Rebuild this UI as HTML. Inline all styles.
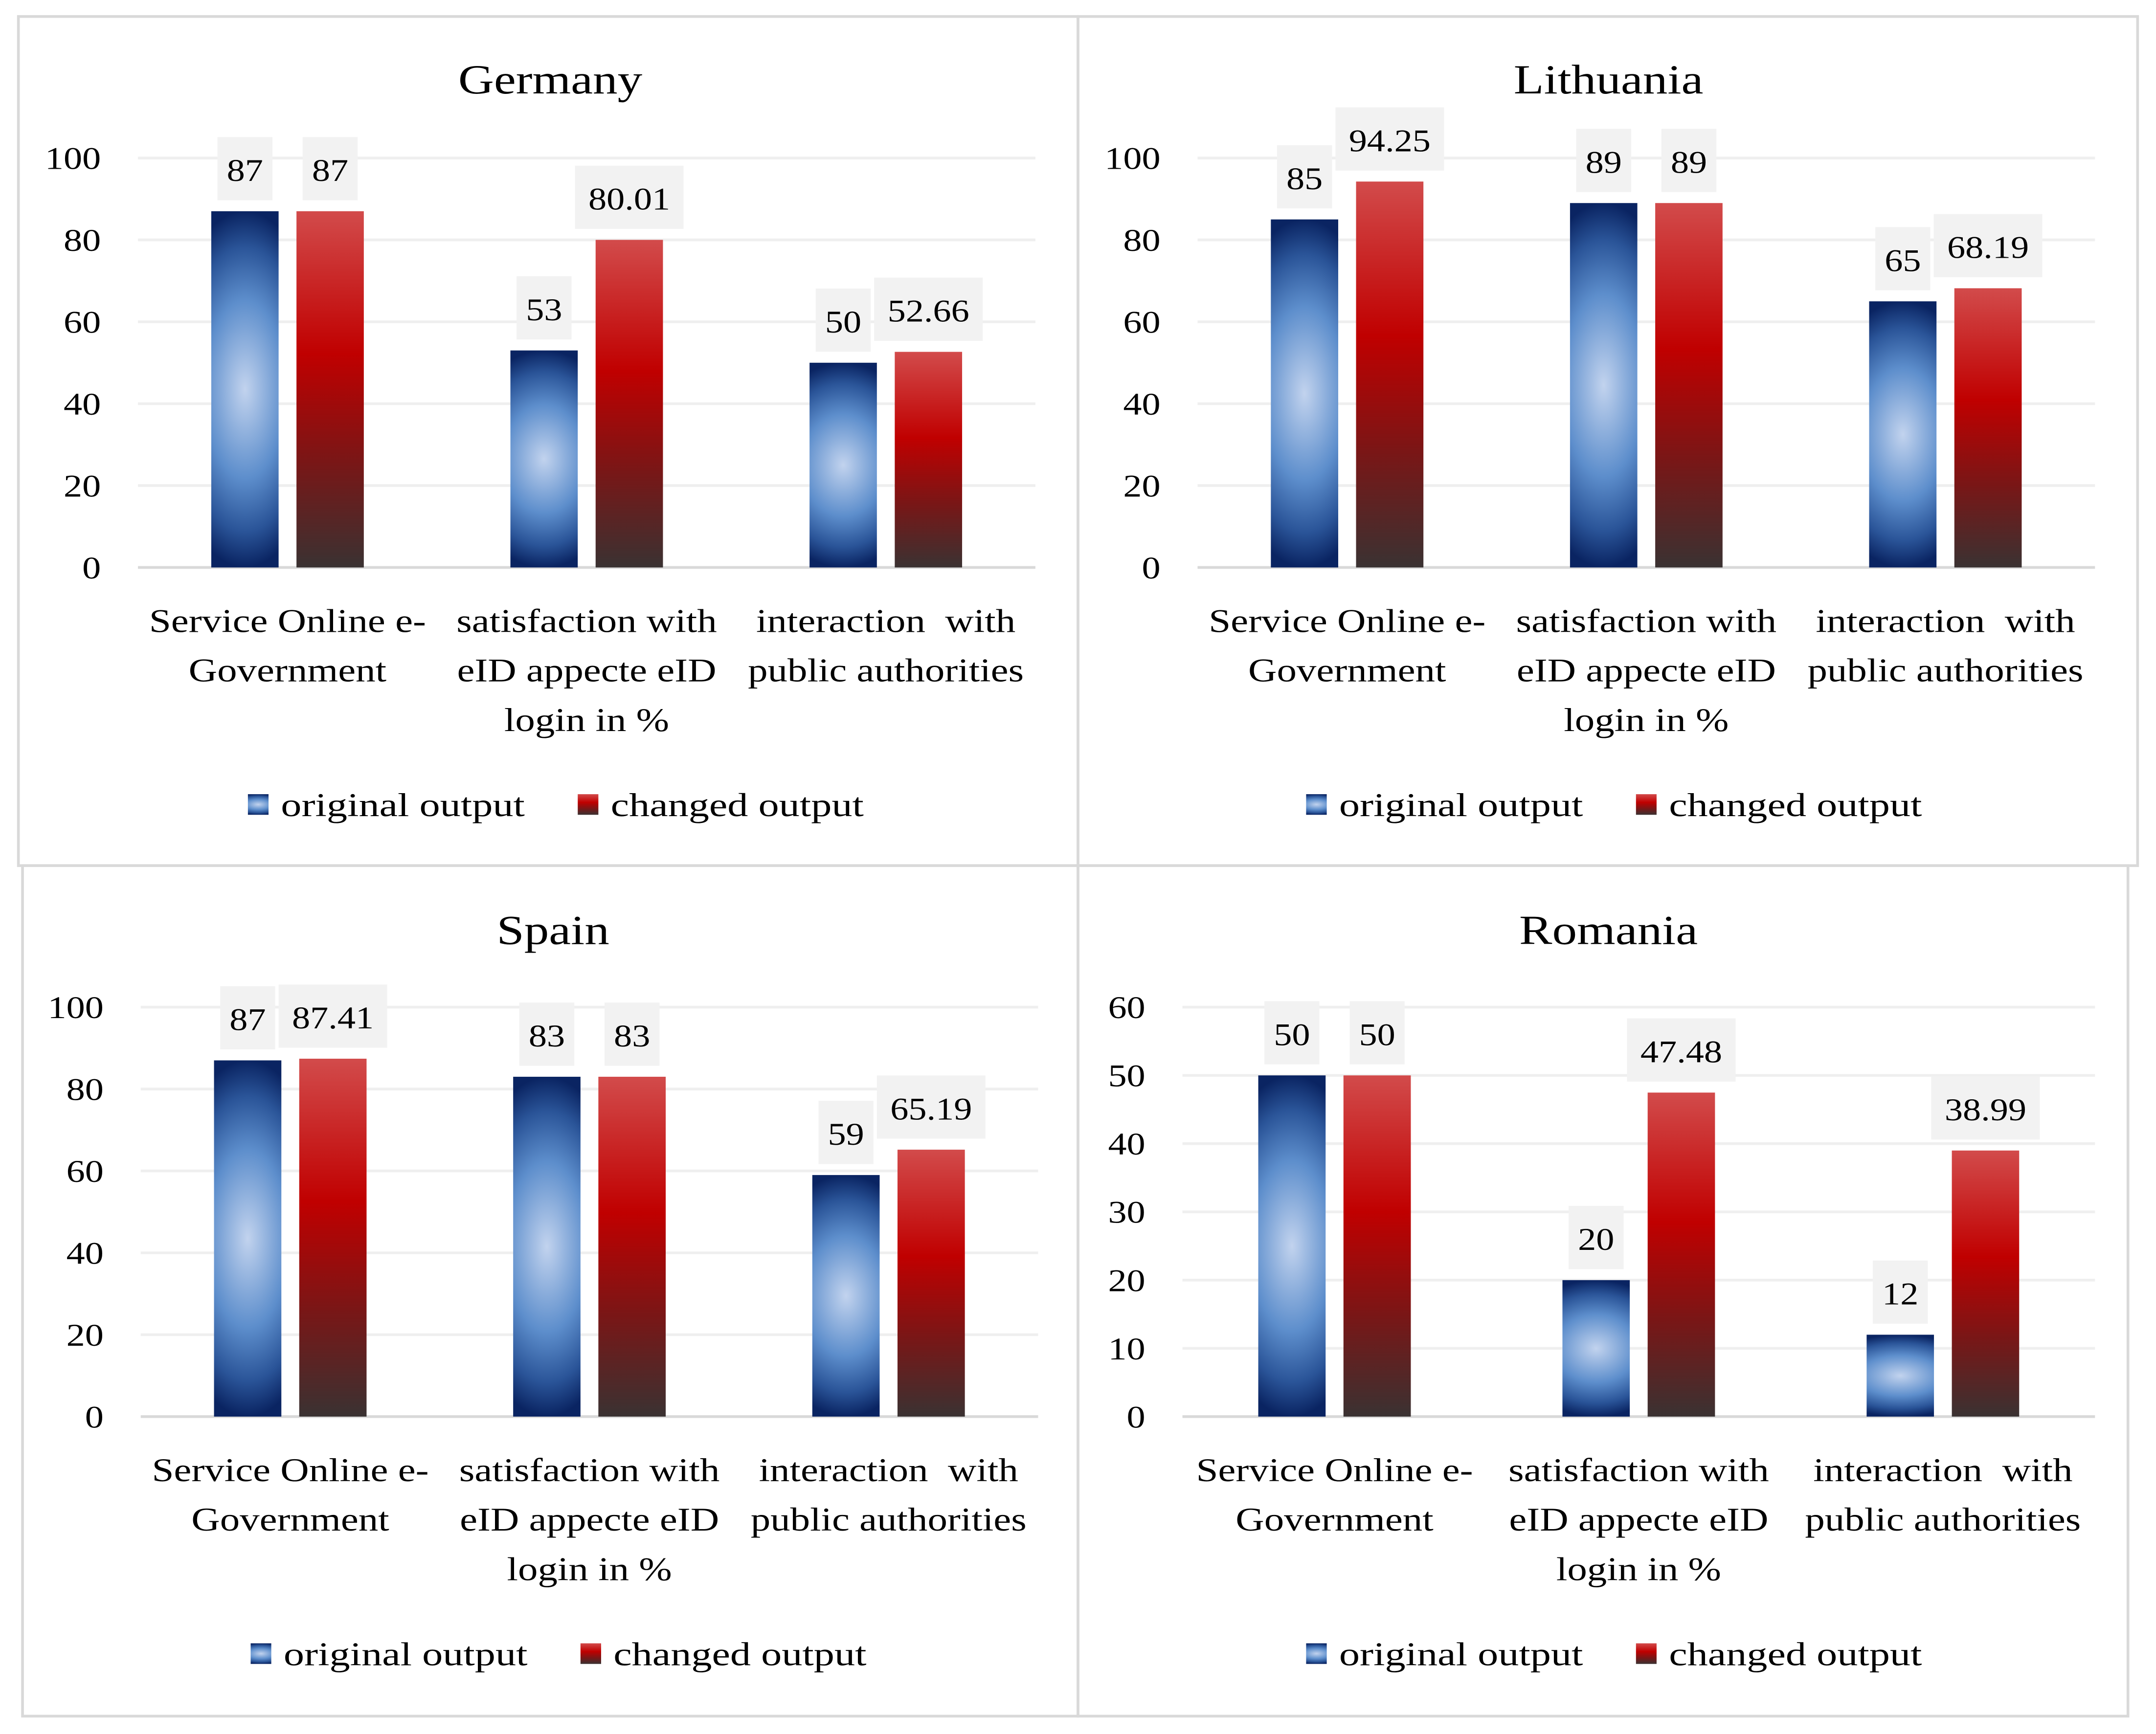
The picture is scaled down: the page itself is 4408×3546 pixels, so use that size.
<!DOCTYPE html>
<html><head><meta charset="utf-8">
<style>
html,body{margin:0;padding:0;background:#fff;}
svg{display:block;}
text{font-family:"Liberation Serif",serif;fill:#000;white-space:pre;}
</style></head>
<body>
<svg id="chart" xmlns="http://www.w3.org/2000/svg" width="4408" height="3546" viewBox="0 0 1568 1262">
<defs>
<radialGradient id="gBlue" cx="0.5" cy="0.5" r="0.5" gradientTransform="translate(0.5 0.5) scale(2.4 1) translate(-0.5 -0.5)">
<stop offset="0" stop-color="#c2d3ee"/>
<stop offset="0.5" stop-color="#5d8ecc"/>
<stop offset="0.8" stop-color="#2a5498"/>
<stop offset="1" stop-color="#0a2462"/>
</radialGradient>
<linearGradient id="gRed" x1="0" y1="0" x2="0" y2="1">
<stop offset="0" stop-color="#d24b4b"/>
<stop offset="0.4" stop-color="#c00000"/>
<stop offset="0.7" stop-color="#7a1616"/>
<stop offset="1" stop-color="#3a3232"/>
</linearGradient>
</defs>
<rect x="0" y="0" width="1568" height="1262" fill="#fff"/>
<rect x="13" y="12" width="771" height="618" fill="none" stroke="#d9d9d9" stroke-width="2"/>
<rect x="784" y="12" width="771" height="618" fill="none" stroke="#d9d9d9" stroke-width="2"/>
<rect x="16" y="630" width="768" height="619" fill="none" stroke="#d9d9d9" stroke-width="2"/>
<rect x="784" y="630" width="764" height="619" fill="none" stroke="#d9d9d9" stroke-width="2"/>
<g id="panels"></g>
</svg>
<script>
const categories = [["Service Online e-","Government"],["satisfaction with","eID appecte eID","login in %"],["interaction  with","public authorities"]];
const seriesNames = ["original output","changed output"];
const germanyOriginal = [87,53,50];
const germanyChanged = [87,80.01,52.66];
const lithuaniaOriginal = [85,89,65];
const lithuaniaChanged = [94.25,89,68.19];
const spainOriginal = [87,83,59];
const spainChanged = [87.41,83,65.19];
const romaniaOriginal = [50,20,12];
const romaniaChanged = [50,47.48,38.99];
const ticks100 = [0,20,40,60,80,100];
const ticks60 = [0,10,20,30,40,50,60];

const NS="http://www.w3.org/2000/svg";
const root=document.getElementById('panels');
function mk(tag,attrs,parent){const e=document.createElementNS(NS,tag);for(const k in attrs)e.setAttribute(k,attrs[k]);(parent||root).appendChild(e);return e;}
function widen(t,f){try{const w=t.getComputedTextLength();if(w>0){t.setAttribute('textLength',w*f);t.setAttribute('lengthAdjust','spacingAndGlyphs');}}catch(e){}}
function fmt(v){return String(v);}

const panels=[
 {name:"germany",title:"Germany",tx:400,ty:58,x0:100,x1:753,y0:413,y1:115,ticks:ticks100,max:100,orig:germanyOriginal,chg:germanyChanged,legX:180,legY:586},
 {name:"lithuania",title:"Lithuania",tx:1170,ty:58,x0:871,x1:1524,y0:413,y1:115,ticks:ticks100,max:100,orig:lithuaniaOriginal,chg:lithuaniaChanged,legX:950,legY:586},
 {name:"spain",title:"Spain",tx:402,ty:677,x0:102,x1:755,y0:1031,y1:733,ticks:ticks100,max:100,orig:spainOriginal,chg:spainChanged,legX:182,legY:1204},
 {name:"romania",title:"Romania",tx:1170,ty:677,x0:860,x1:1524,y0:1031,y1:733,ticks:ticks60,max:60,orig:romaniaOriginal,chg:romaniaChanged,legX:950,legY:1204}
];

panels.forEach(p=>{
 const g=mk('g',{});
 
 
 const yS=v=>p.y0-(v/p.max)*(p.y0-p.y1);
 const cw=(p.x1-p.x0)/categories.length;
 const t=mk('text',{x:p.tx,y:p.ty+10,'text-anchor':'middle','font-size':30},g);
 t.textContent=p.title;
 
 
 widen(t,1.2);
 p.ticks.forEach(v=>{
  const y=yS(v);
  const ln=mk('line',{x1:p.x0,x2:p.x1,y1:y,y2:y,stroke:v===0?'#d9d9d9':'#efefef','stroke-width':2},g);
  
  
  const lb=mk('text',{x:p.x0-27,y:y+8,'text-anchor':'end','font-size':23},g);
  lb.textContent=v;
  
  
  widen(lb,1.18);
 });
 const bw=49,gap=13;
 categories.forEach((c,i)=>{
  const cx=p.x0+cw*(i+0.5);
  [[p.orig[i],'url(#gBlue)',cx-gap/2-bw,'original'],[p.chg[i],'url(#gRed)',cx+gap/2,'changed']].forEach(([v,fill,bx,s])=>{
   const top=yS(v);
   const r=mk('rect',{x:bx,y:top,width:bw,height:p.y0-top,fill:fill},g);
   
   
   const txt=fmt(v);
   const w=txt.length*13+14;
   const bxc=bx+bw/2;
   const box=mk('rect',{x:bxc-w/2,y:top-54,width:w,height:46,fill:'#f2f2f2'},g);
   
   
   const dl=mk('text',{x:bxc,y:top-22,'text-anchor':'middle','font-size':23},g);
   dl.textContent=txt;
   
   
   widen(dl,1.15);
  });
  c.forEach((line,j)=>{
   const cl=mk('text',{x:cx,y:p.y0+47+j*36,'text-anchor':'middle','font-size':24},g);
   cl.textContent=line;
   
   
   widen(cl,1.2);
  });
 });
 const lx=[p.legX,p.legX+240];
 const lf=['url(#gBlue)','url(#gRed)'];
 seriesNames.forEach((n,k)=>{
  const m=mk('rect',{x:lx[k],y:p.legY-8,width:15,height:15,fill:lf[k]},g);
  
  
  const lt=mk('text',{x:lx[k]+24,y:p.legY+8,'font-size':24},g);
  lt.textContent=n;
  
  
  widen(lt,1.25);
 });
});
</script>
</body></html>
